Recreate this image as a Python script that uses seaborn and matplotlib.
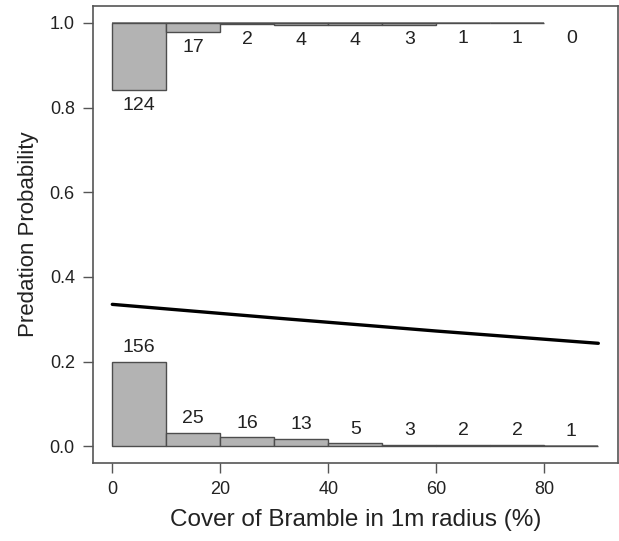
import matplotlib
matplotlib.use("Agg")
import matplotlib.pyplot as plt
import seaborn as sns
import numpy as np

# Data
bin_left = [0, 10, 20, 30, 40, 50, 60, 70, 80]
counts_zero = [156, 25, 16, 13, 5, 3, 2, 2, 1]      # predation = 0 (bottom)
counts_one = [124, 17, 2, 4, 4, 3, 1, 1, 0]         # predation = 1 (top)
curve_x = [0, 30, 60, 90]
curve_y = [0.335, 0.303, 0.272, 0.243]

bin_width = 10
scale = 0.2 / max(counts_zero)

sns.set_style("white")
plt.rcParams['font.family'] = ['Liberation Sans', 'DejaVu Sans']

fig = plt.figure(figsize=(6.19, 5.41), dpi=100)
ax = fig.add_axes([0.150, 0.144, 0.848, 0.845])

fill = "#b3b3b3"
edge = "#4d4d4d"
txt = "#222222"

h0 = [c * scale for c in counts_zero]
h1 = [c * scale for c in counts_one]

# bottom histogram
ax.bar(bin_left, h0, width=bin_width, align="edge", bottom=0,
       color=fill, edgecolor=edge, linewidth=1.0, zorder=2)
# top histogram (drawn downward from 1); skip empty bins
idx = [i for i, c in enumerate(counts_one) if c > 0]
ax.bar([bin_left[i] for i in idx], [-h1[i] for i in idx], width=bin_width,
       align="edge", bottom=1, color=fill, edgecolor=edge, linewidth=1.0, zorder=2)

# baselines
ax.hlines(0, 0, bin_left[-1] + bin_width, color="#777777", lw=1.2, zorder=1)
last_top = max(idx)
ax.hlines(1, 0, bin_left[last_top] + bin_width, color="#777777", lw=1.2, zorder=1)

# count labels
for i, c in enumerate(counts_zero):
    ax.text(bin_left[i] + bin_width / 2, h0[i] + 0.034, str(c), ha="center",
            va="center", fontsize=14, color=txt)
for i, c in enumerate(counts_one):
    ax.text(bin_left[i] + bin_width / 2, 1 - h1[i] - 0.036, str(c), ha="center",
            va="center", fontsize=14, color=txt)

# fitted curve
sns.lineplot(x=curve_x, y=curve_y, ax=ax, color="black", lw=2.4, zorder=3)

ax.set_xlim(-3.6, 93.6)
ax.set_ylim(-0.04, 1.04)
ax.set_xticks([0, 20, 40, 60, 80])
ax.set_yticks([0.0, 0.2, 0.4, 0.6, 0.8, 1.0])
ax.set_yticklabels(["0.0", "0.2", "0.4", "0.6", "0.8", "1.0"])
ax.tick_params(axis="both", direction="out", length=7, width=1.0, color="#555555",
               labelsize=13, labelcolor=txt, pad=6, left=True, bottom=True)
for s in ax.spines.values():
    s.set_color("#555555")
    s.set_linewidth(1.2)

ax.set_xlabel("Cover of Bramble in 1m radius (%)", fontsize=17.5, color=txt, labelpad=8)
ax.set_ylabel("Predation Probability", fontsize=16, color=txt, labelpad=8)

fig.savefig("out.png", dpi=100)
